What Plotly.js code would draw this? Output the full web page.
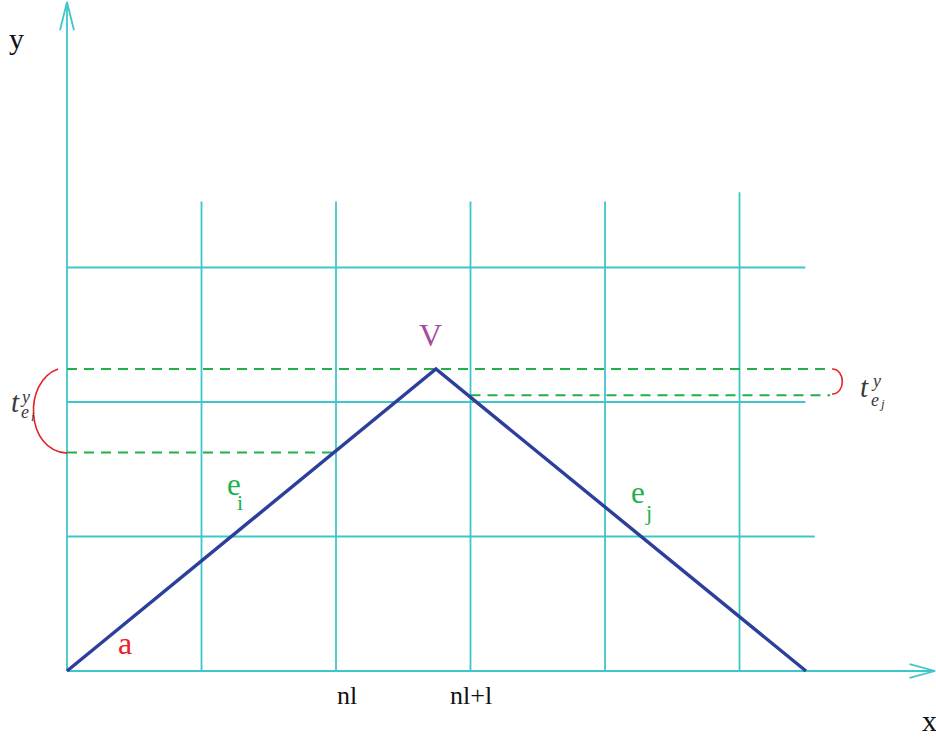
<!DOCTYPE html>
<html>
<head>
<meta charset="utf-8">
<script src="https://cdn.plot.ly/plotly-3.0.1.min.js"></script>
<style>html,body{margin:0;padding:0;background:#fff;}#chart{width:936px;height:740px;}</style>
</head>
<body>
<div id="chart"></div>
<script>
// ---- data (grid units) ----
const gridX = [1, 2, 3, 4, 5];
const gridXTop = [3.49, 3.49, 3.49, 3.49, 3.56];
const gridY = [1, 2, 3];
const gridYRight = [5.56, 5.49, 5.49];
const axisXEnd = 6.454;
const axisYEnd = 4.974;
const pathX = [0, 2.743, 5.494];
const pathY = [0, 2.245, 0];
const dashY = [2.245, 2.05, 1.625];
const dashX0 = [0, 3, 0];
const dashX1 = [5.673, 5.673, 2];
const tickLabels = ['nl', 'nl+l'];
const tickLabelX = [2.08, 3.0];

const CYAN = '#3ec6cc', BLUE = '#2b3f9b', GREEN = '#22b04b', RED = '#e8212b', PURPLE = '#a64a9f', GRAY = '#3a3a3a';
const SERIF = 'Liberation Serif, DejaVu Serif, serif';

// build grid segments
const vx = [], vy = [];
gridX.forEach((g, i) => { vx.push(g, g, null); vy.push(0, gridXTop[i], null); });
const hx = [], hy = [];
gridY.forEach((g, i) => { hx.push(0, gridYRight[i], null); hy.push(g, g, null); });
const dx = [], dy = [];
dashY.forEach((g, i) => { dx.push(dashX0[i], dashX1[i], null); dy.push(g, g, null); });

const base = {mode: 'lines', hoverinfo: 'skip', showlegend: false};
const traces = [
  Object.assign({x: vx, y: vy, line: {color: CYAN, width: 1.8}}, base),
  Object.assign({x: hx, y: hy, line: {color: CYAN, width: 1.8}}, base),
  // axes
  Object.assign({x: [0, axisXEnd], y: [0, 0], line: {color: CYAN, width: 1.8}}, base),
  Object.assign({x: [0, 0], y: [0, axisYEnd], line: {color: CYAN, width: 1.8}}, base),
  // arrowheads
  Object.assign({x: [-0.052, 0, 0.052], y: [axisYEnd - 0.21, axisYEnd, axisYEnd - 0.21], line: {color: CYAN, width: 1.8}}, base),
  Object.assign({x: [axisXEnd - 0.19, axisXEnd, axisXEnd - 0.19], y: [0.052, 0, -0.052], line: {color: CYAN, width: 1.8}}, base),
  // dashed
  Object.assign({x: dx, y: dy, line: {color: GREEN, width: 2, dash: '10px,7px'}}, base),
  // path
  Object.assign({x: pathX, y: pathY, line: {color: BLUE, width: 3.4}}, base)
];

function ann(text, x, y, size, color, extra) {
  return Object.assign({text: text, x: x, y: y, xref: 'x', yref: 'y', showarrow: false,
    xanchor: 'center', yanchor: 'middle', font: {family: SERIF, size: size, color: color}}, extra || {});
}
const annotations = [
  ann('y', -0.379, 4.70, 30, '#111'),
  ann('x', 6.416, -0.37, 30, '#111'),
  ann(tickLabels[0], tickLabelX[0], -0.18, 26, '#111'),
  ann(tickLabels[1], tickLabelX[1], -0.18, 26, '#111'),
  ann('V', 2.706, 2.50, 32, PURPLE),
  ann('e', 1.242, 1.39, 31, GREEN),
  ann('i', 1.283, 1.25, 22, GREEN),
  ann('e', 4.242, 1.33, 31, GREEN),
  ann('j', 4.327, 1.18, 22, GREEN),
  ann('a', 0.4275, 0.21, 32, RED),
  ann('<i>t</i>', -0.385, 2.0, 29, GRAY),
  ann('<i>y</i>', -0.316, 2.035, 18, GRAY),
  ann('<i>e</i>', -0.313, 1.922, 18, GRAY),
  ann('<i>i</i>', -0.258, 1.892, 12, GRAY),
  ann('<i>t</i>', 5.929, 2.11, 29, GRAY),
  ann('<i>y</i>', 6.013, 2.155, 18, GRAY),
  ann('<i>e</i>', 6.004, 2.018, 18, GRAY),
  ann('<i>j</i>', 6.062, 1.99, 13, GRAY)
];

const shapes = [
  {type: 'path', xref: 'x', yref: 'y', path: 'M -0.067,2.245 C -0.33,2.15 -0.31,1.64 0,1.62', line: {color: RED, width: 1.6}},
  {type: 'path', xref: 'x', yref: 'y', path: 'M 5.688,2.245 C 5.79,2.245 5.79,2.059 5.688,2.059', line: {color: RED, width: 1.6}}
];

const S = 134.5;
const layout = {
  width: 936, height: 740,
  margin: {l: 0, r: 0, t: 0, b: 0, pad: 0},
  paper_bgcolor: '#fff', plot_bgcolor: '#fff',
  xaxis: {range: [-67 / S, 869 / S], visible: false, fixedrange: true},
  yaxis: {range: [-69 / S, 671 / S], visible: false, fixedrange: true},
  annotations: annotations,
  shapes: shapes,
  showlegend: false
};
Plotly.newPlot('chart', traces, layout, {staticPlot: true, displayModeBar: false});
</script>
</body>
</html>
